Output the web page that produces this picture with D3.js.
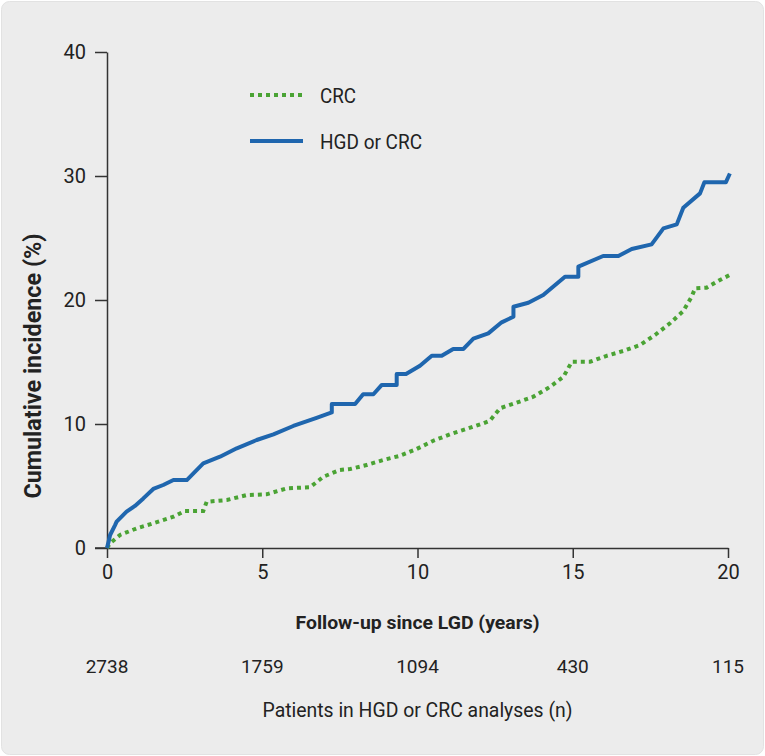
<!DOCTYPE html>
<html>
<head>
<meta charset="utf-8">
<script src="https://cdn.jsdelivr.net/npm/d3@7"></script>
<style>
  html, body { margin: 0; padding: 0; background: #ffffff; }
  svg { display: block; }
  text { font-family: Roboto, "Noto Sans", sans-serif; fill: #222; }
</style>
</head>
<body>
<svg id="chart"></svg>
<script>
// follow-up years and cumulative incidence (%)
const hgdYears = [0, 0.05, 0.1, 0.26, 0.31, 0.63, 0.9, 1.17, 1.49, 1.81, 2.14, 2.57, 3.1, 3.64, 4.18, 4.82, 5.36, 6.0, 6.75, 7.24, 7.24, 7.99, 8.25, 8.58, 8.85, 9.33, 9.33, 9.63, 10.08, 10.46, 10.78, 11.15, 11.48, 11.8, 12.28, 12.71, 13.09, 13.09, 13.57, 14.05, 14.75, 15.18, 15.18, 15.98, 16.47, 16.9, 17.54, 17.92, 18.35, 18.56, 19.1, 19.24, 19.93, 20.06];
const hgdValues = [0, 0.5, 1.05, 1.85, 2.12, 2.93, 3.39, 4.0, 4.76, 5.08, 5.48, 5.48, 6.83, 7.36, 8.04, 8.71, 9.17, 9.84, 10.5, 10.93, 11.61, 11.61, 12.4, 12.4, 13.15, 13.15, 14.03, 14.03, 14.7, 15.5, 15.5, 16.05, 16.05, 16.88, 17.31, 18.2, 18.65, 19.46, 19.78, 20.4, 21.88, 21.88, 22.69, 23.55, 23.55, 24.11, 24.49, 25.78, 26.1, 27.44, 28.6, 29.49, 29.49, 30.2];

const crcYears = [0, 0.1, 0.42, 0.96, 1.49, 2.14, 2.51, 3.1, 3.21, 3.86, 4.5, 5.14, 5.79, 6.54, 6.97, 7.5, 7.83, 8.36, 8.9, 9.44, 9.97, 10.51, 11.05, 11.58, 12.12, 12.33, 12.66, 13.19, 13.73, 14.27, 14.7, 14.97, 15.56, 16.09, 16.63, 17.17, 17.65, 18.13, 18.56, 18.83, 18.94, 19.31, 19.74, 20.06];
const crcValues = [0, 0.38, 1.05, 1.59, 1.99, 2.52, 2.98, 2.98, 3.73, 3.87, 4.27, 4.33, 4.81, 4.9, 5.75, 6.29, 6.37, 6.69, 7.1, 7.44, 7.98, 8.65, 9.17, 9.6, 10.06, 10.27, 11.27, 11.72, 12.2, 13.0, 13.81, 15.02, 15.02, 15.5, 15.89, 16.37, 17.18, 18.12, 19.11, 20.27, 20.94, 20.99, 21.61, 22.02];

const xTicks = [0, 5, 10, 15, 20];
const yTicks = [0, 10, 20, 30, 40];
const atRisk = [2738, 1759, 1094, 430, 115];

const seriesNames = ["CRC", "HGD or CRC"];
const seriesColors = ["#4aa334", "#1f66ae"];

const W = 765, H = 756;
const margin = { top: 52, right: 37, bottom: 208, left: 107 };
const width = W - margin.left - margin.right;
const height = H - margin.top - margin.bottom;

const svg = d3.select("#chart").attr("width", W).attr("height", H);

// card background
svg.append("rect")
    .attr("x", 1.5).attr("y", 1.5)
    .attr("width", W - 3).attr("height", H - 3)
    .attr("rx", 8)
    .attr("fill", "#ececec")
    .attr("stroke", "#e2e2e2");

const chart = svg.append("g")
    .attr("transform", `translate(${margin.left},${margin.top})`);

const xScale = d3.scaleLinear().domain([0, 20]).range([0, width]);
const yScale = d3.scaleLinear().domain([0, 40]).range([height, 0]);

// y axis
const yAxisG = chart.append("g")
    .call(d3.axisLeft(yScale).tickValues(yTicks).tickSize(12).tickPadding(9).tickSizeOuter(0));
yAxisG.selectAll("text").style("font-size", "20px").attr("fill", "#222");

// x axis
const xAxisG = chart.append("g")
    .attr("transform", `translate(0,${height})`)
    .call(d3.axisBottom(xScale).tickValues(xTicks).tickSize(10).tickPadding(7).tickSizeOuter(0));
xAxisG.selectAll("text").style("font-size", "20px").attr("fill", "#222");

chart.selectAll(".domain, .tick line")
    .attr("stroke", "#333")
    .attr("stroke-width", 1.5);

// extend x axis baseline to meet the 0 tick on the left
chart.append("line")
    .attr("x1", -12).attr("x2", 0)
    .attr("y1", height).attr("y2", height)
    .attr("stroke", "#333").attr("stroke-width", 1.5);

const line = d3.line()
    .x(d => xScale(d[0]))
    .y(d => yScale(d[1]));

const crcData = crcYears.map((t, i) => [t, crcValues[i]]);
const hgdData = hgdYears.map((t, i) => [t, hgdValues[i]]);

chart.append("path")
    .datum(crcData)
    .attr("d", line)
    .attr("fill", "none")
    .attr("stroke", seriesColors[0])
    .attr("stroke-width", 4)
    .attr("stroke-dasharray", "4 4");

chart.append("path")
    .datum(hgdData)
    .attr("d", line)
    .attr("fill", "none")
    .attr("stroke", seriesColors[1])
    .attr("stroke-width", 4)
    .attr("stroke-linejoin", "round");

// legend
const legend = svg.append("g").attr("transform", "translate(250,95)");
seriesNames.forEach((name, i) => {
  const g = legend.append("g").attr("transform", `translate(0,${i * 46})`);
  g.append("line")
      .attr("x1", 0).attr("x2", 53)
      .attr("stroke", seriesColors[i])
      .attr("stroke-width", 4)
      .attr("stroke-dasharray", i === 0 ? "4 4" : null);
  g.append("text")
      .attr("x", 70).attr("y", 8)
      .style("font-size", "21px")
      .attr("textLength", i === 0 ? 36 : 102)
      .attr("lengthAdjust", "spacingAndGlyphs")
      .text(name);
});

// y axis label
svg.append("text")
    .attr("transform", `translate(41,${margin.top + height / 2 + 66}) rotate(-90)`)
    .attr("text-anchor", "middle")
    .style("font-size", "24px")
    .style("font-weight", "bold")
    .attr("textLength", 265)
    .attr("lengthAdjust", "spacingAndGlyphs")
    .text("Cumulative incidence (%)");

// x axis label
svg.append("text")
    .attr("x", margin.left + width / 2).attr("y", 629)
    .attr("text-anchor", "middle")
    .style("font-size", "19px")
    .style("font-weight", "bold")
    .attr("textLength", 244)
    .attr("lengthAdjust", "spacingAndGlyphs")
    .text("Follow-up since LGD (years)");

// numbers at risk
svg.append("g").selectAll("text")
  .data(atRisk)
  .join("text")
    .attr("x", (d, i) => margin.left + xScale(xTicks[i]))
    .attr("y", 673)
    .attr("text-anchor", "middle")
    .style("font-size", "19px")
    .text(d => d);

svg.append("text")
    .attr("x", margin.left + width / 2).attr("y", 717)
    .attr("text-anchor", "middle")
    .style("font-size", "20px")
    .attr("textLength", 310)
    .attr("lengthAdjust", "spacingAndGlyphs")
    .text("Patients in HGD or CRC analyses (n)");
</script>
</body>
</html>
